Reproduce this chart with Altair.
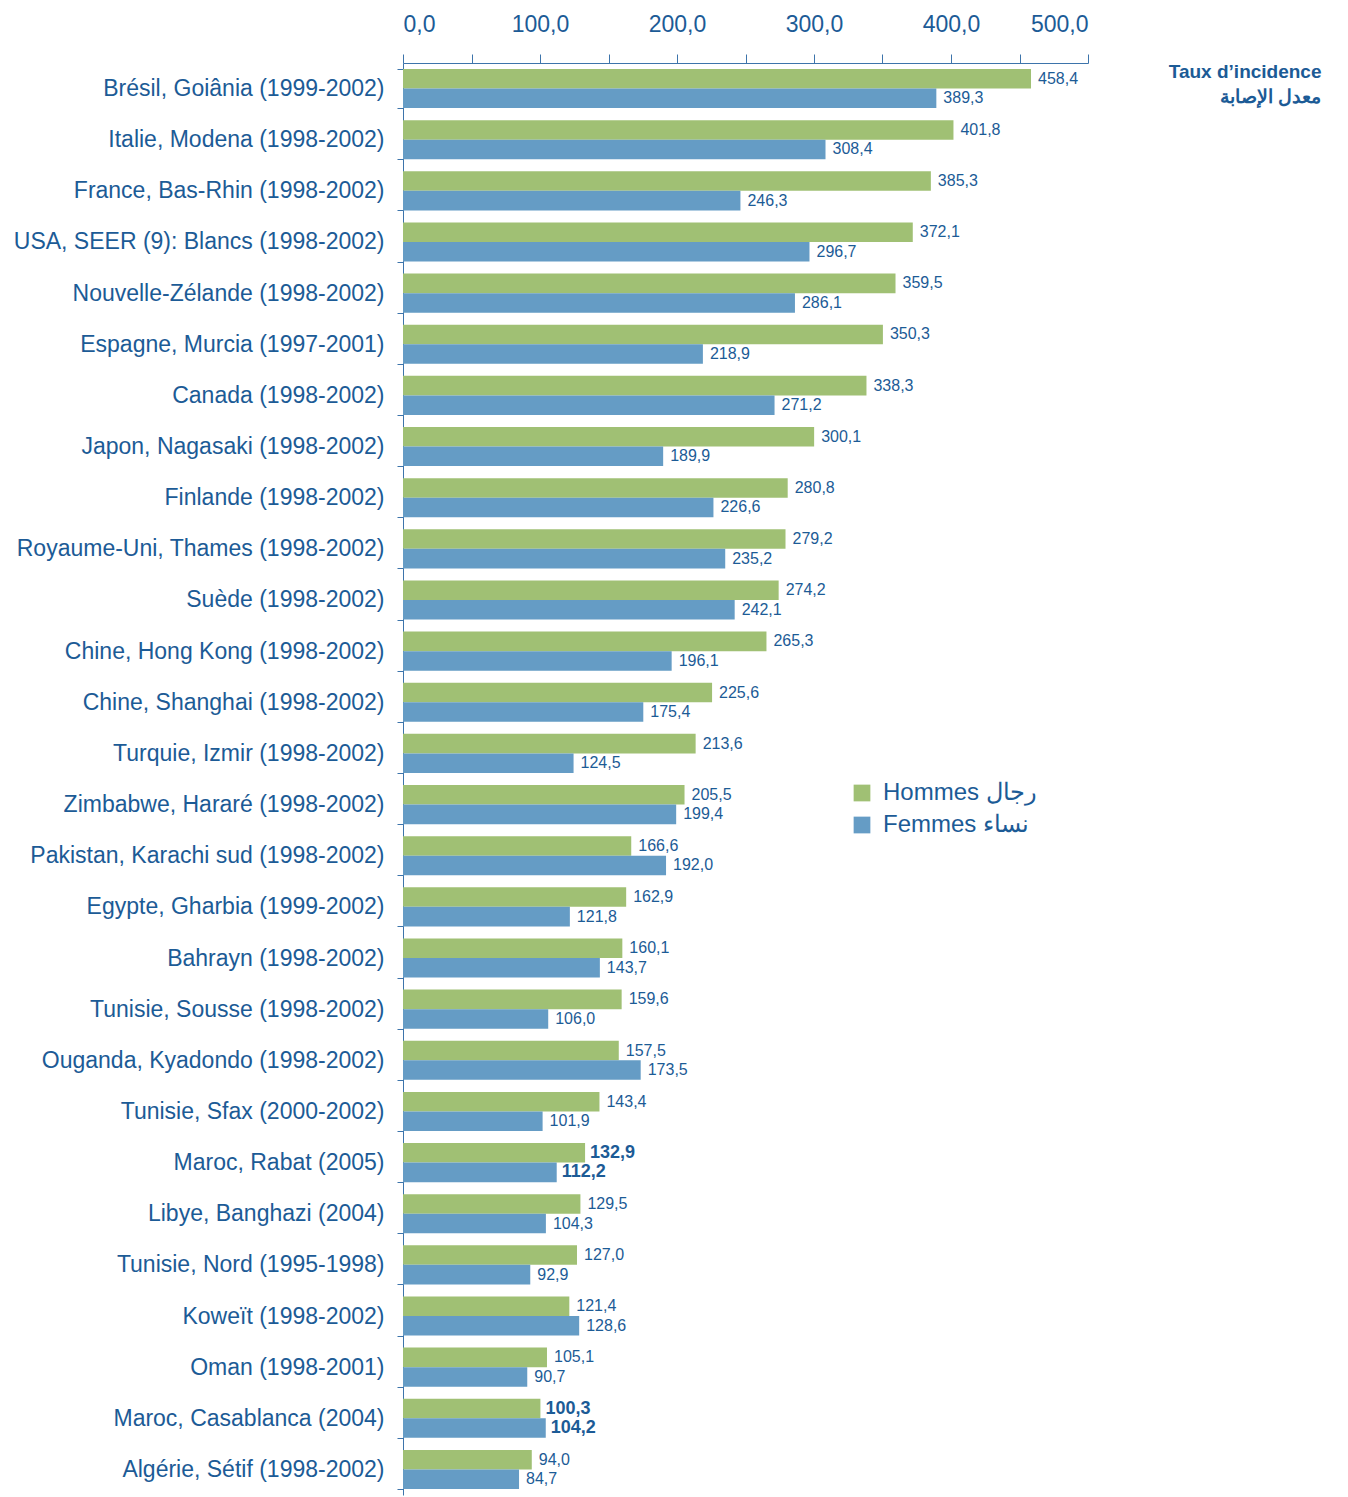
import altair as alt
import pandas as pd

categories = [
    "Brésil, Goiânia (1999-2002)", "Italie, Modena (1998-2002)", "France, Bas-Rhin (1998-2002)",
    "USA, SEER (9): Blancs (1998-2002)", "Nouvelle-Zélande (1998-2002)", "Espagne, Murcia (1997-2001)",
    "Canada (1998-2002)", "Japon, Nagasaki (1998-2002)", "Finlande (1998-2002)",
    "Royaume-Uni, Thames (1998-2002)", "Suède (1998-2002)", "Chine, Hong Kong (1998-2002)",
    "Chine, Shanghai (1998-2002)", "Turquie, Izmir (1998-2002)", "Zimbabwe, Hararé (1998-2002)",
    "Pakistan, Karachi sud (1998-2002)", "Egypte, Gharbia (1999-2002)", "Bahrayn (1998-2002)",
    "Tunisie, Sousse (1998-2002)", "Ouganda, Kyadondo (1998-2002)", "Tunisie, Sfax (2000-2002)",
    "Maroc, Rabat (2005)", "Libye, Banghazi (2004)", "Tunisie, Nord (1995-1998)",
    "Koweït (1998-2002)", "Oman (1998-2001)", "Maroc, Casablanca (2004)", "Algérie, Sétif (1998-2002)",
]
hommes = [458.4, 401.8, 385.3, 372.1, 359.5, 350.3, 338.3, 300.1, 280.8, 279.2, 274.2, 265.3,
          225.6, 213.6, 205.5, 166.6, 162.9, 160.1, 159.6, 157.5, 143.4, 132.9, 129.5, 127.0,
          121.4, 105.1, 100.3, 94.0]
femmes = [389.3, 308.4, 246.3, 296.7, 286.1, 218.9, 271.2, 189.9, 226.6, 235.2, 242.1, 196.1,
          175.4, 124.5, 199.4, 192.0, 121.8, 143.7, 106.0, 173.5, 101.9, 112.2, 104.3, 92.9,
          128.6, 90.7, 104.2, 84.7]
series = ["Hommes", "Femmes"]
x_ticks = [0, 50, 100, 150, 200, 250, 300, 350, 400, 450, 500]

rows = []
for c, h, f in zip(categories, hommes, femmes):
    for s, v in zip(series, [h, f]):
        rows.append({"pays": c, "sexe": s, "valeur": v,
                     "txt": f"{v:.1f}".replace(".", ","),
                     "maroc": 1 if c.startswith("Maroc") else 0})
df = pd.DataFrame(rows)

BLUE_TXT = "#1c5b96"
AXIS_COL = "#3d74ab"
GREEN = "#a0c074"
BLUE = "#659cc5"
FONT = "Liberation Sans"

y_axis = alt.Axis(title=None, tickBand="extent", tickSize=6, labelFontSize=23,
                  labelColor=BLUE_TXT, labelPadding=13, domainColor=AXIS_COL,
                  tickColor=AXIS_COL, labelFont=FONT, labelLimit=500)
y_enc = alt.Y("pays:N", sort=categories,
              scale=alt.Scale(paddingInner=0.235, paddingOuter=0.117), axis=y_axis)
yoff = alt.YOffset("sexe:N", sort=series)

x_enc = alt.X("valeur:Q", scale=alt.Scale(domain=[0, 500], nice=False),
              axis=alt.Axis(orient="top", values=x_ticks, tickSize=9, labelFontSize=23,
                            labelColor=BLUE_TXT, labelPadding=18, domainColor=AXIS_COL,
                            tickColor=AXIS_COL, labelFont=FONT, grid=False,
                            labelExpr="datum.value % 100 == 0 ? replace(format(datum.value, '.1f'), '.', ',') : ''",
                            title=["Taux d’incidence", "معدل الإصابة"], titleX=918, titleY=8,
                            titleAlign="right", titleBaseline="middle",
                            titleFontSize=19, titleFont=FONT, titleColor=BLUE_TXT,
                            titleFontWeight="bold", titleLineHeight=25))

base = alt.Chart(df)

bars = base.mark_bar().encode(
    x=x_enc, y=y_enc, yOffset=yoff,
    color=alt.Color("sexe:N", sort=series, scale=alt.Scale(domain=series, range=[GREEN, BLUE]),
                    legend=alt.Legend(title=None, orient="none", legendX=447, legendY=718,
                                      symbolType="square", symbolSize=280,
                                      labelFontSize=24, labelColor=BLUE_TXT, labelFont=FONT,
                                      labelLimit=400, rowPadding=8, labelOffset=9,
                                      labelExpr="datum.label == 'Hommes' ? 'Hommes  رجال' : 'Femmes  نساء'")),
)

txt_norm = base.transform_filter("datum.maroc == 0").mark_text(
    align="left", baseline="middle", dx=7, fontSize=16, color=BLUE_TXT, font=FONT
).encode(x="valeur:Q", y=alt.Y("pays:N", sort=categories), yOffset=yoff, text="txt:N")
txt_bold = base.transform_filter("datum.maroc == 1").mark_text(
    align="left", baseline="middle", dx=5, fontSize=18, fontWeight="bold", color=BLUE_TXT, font=FONT
).encode(x="valeur:Q", y=alt.Y("pays:N", sort=categories), yOffset=yoff, text="txt:N")

chart = alt.layer(bars, txt_norm, txt_bold).properties(
    width=685, height=1432
).configure_view(stroke=None)

chart.save("out.html", embed_options={"renderer": "svg", "actions": False})
